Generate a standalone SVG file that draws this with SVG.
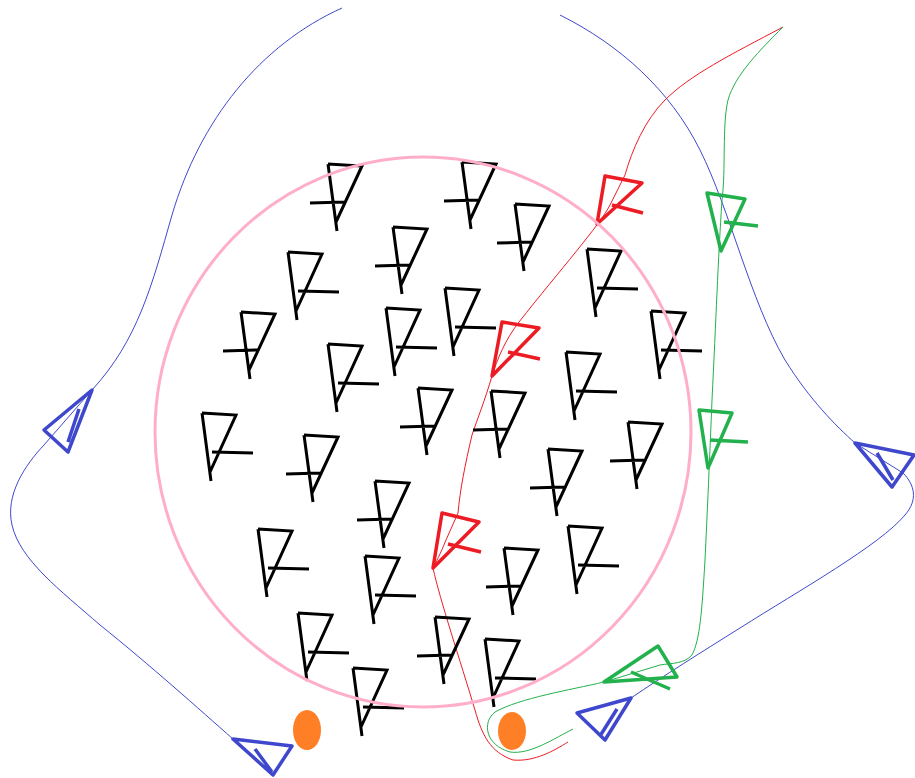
<svg xmlns="http://www.w3.org/2000/svg" xmlns:xlink="http://www.w3.org/1999/xlink" width="915" height="778" viewBox="0 0 915 778">
<defs>
<style>
.bk{fill:none;stroke:#000;stroke-width:3;stroke-linejoin:miter}
.rd{fill:none;stroke:#ed1c24;stroke-width:3.5;stroke-linejoin:round}
.gn{fill:none;stroke:#22b14c;stroke-width:3.5;stroke-linejoin:round}
.bl{fill:none;stroke:#3f48cc;stroke-width:3.5;stroke-linejoin:round}
.lr{fill:none;stroke:#ed1c24;stroke-width:1}
.lg{fill:none;stroke:#22b14c;stroke-width:1}
.lb{fill:none;stroke:#3f48cc;stroke-width:1}
.or{fill:#ff7f27}
</style>
<path id="gL" class="bk" d="M0,0 L34,2 L8,58 M0,0 L9,67 M-18,39 L17,38"/>
<path id="gR" class="bk" d="M0,0 L34,2 L8,59 M0,0 L9,68 M10,39 L51,40"/>
</defs>
<rect width="915" height="778" fill="#fff"/>
<g id="connectors">
<path class="lb" d="M342,8 C 260,45 200,120 172,215 C 152,285 138,340 92,390 L 44,445 C 25,465 5,495 12,525 C 20,560 60,590 100,625 C 150,665 200,710 233,739"/>
<path class="lb" d="M560,15 C 620,45 670,90 700,150 C 730,210 750,300 785,360 C 810,400 835,425 855,443 L 903,473 C 915,485 918,500 905,515 C 880,545 800,590 740,628 C 700,653 665,675 631,698"/>
<path class="lr" d="M783,27 C 730,55 690,75 665,100 C 645,120 632,150 625,175 L 610,205 C 600,225 560,270 519,322 C 505,340 497,360 492,376 C 485,400 477,420 472,435 C 465,465 460,490 458,513 L 446,540 C 440,555 436,562 433,568 C 440,600 460,660 475,710 C 482,735 490,752 513,760 C 535,762 555,750 568,742"/>
<path class="lg" d="M783,27 C 760,50 735,75 728,100 C 722,125 726,170 722,200 C 718,260 716,320 712,400 C 710,450 707,520 705,560 C 702,610 700,640 692,655 C 684,664 672,663 660,665 L 604,682 C 570,690 520,698 495,712 C 482,722 485,745 510,752 C 530,755 555,738 573,729"/>
</g>
<g id="agents">
<g id="a1"><use xlink:href="#gL" x="328" y="164"/></g>
<g id="a2"><use xlink:href="#gL" x="393" y="227"/></g>
<g id="a3"><use xlink:href="#gL" x="241" y="312"/></g>
<g id="a4"><use xlink:href="#gL" x="418" y="388"/></g>
<g id="a5"><use xlink:href="#gL" x="462" y="162"/></g>
<g id="a6"><use xlink:href="#gL" x="515" y="204"/></g>
<g id="a7"><use xlink:href="#gL" x="491" y="391"/></g>
<g id="a8"><use xlink:href="#gL" x="628" y="422"/></g>
<g id="a9"><use xlink:href="#gL" x="304" y="435"/></g>
<g id="a10"><use xlink:href="#gL" x="375" y="481"/></g>
<g id="a11"><use xlink:href="#gL" x="435" y="617"/></g>
<g id="a12"><use xlink:href="#gL" x="548" y="449"/></g>
<g id="a13"><use xlink:href="#gL" x="504" y="548"/></g>
<g id="a14"><use xlink:href="#gR" x="288" y="252"/></g>
<g id="a15"><use xlink:href="#gR" x="386" y="308"/></g>
<g id="a16"><use xlink:href="#gR" x="328" y="344"/></g>
<g id="a17"><use xlink:href="#gR" x="202" y="413"/></g>
<g id="a18"><use xlink:href="#gR" x="445" y="288"/></g>
<g id="a19"><use xlink:href="#gR" x="587" y="249"/></g>
<g id="a20"><use xlink:href="#gR" x="651" y="311"/></g>
<g id="a21"><use xlink:href="#gR" x="566" y="352"/></g>
<g id="a22"><use xlink:href="#gR" x="258" y="529"/></g>
<g id="a23"><use xlink:href="#gR" x="365" y="556"/></g>
<g id="a24"><use xlink:href="#gR" x="298" y="613"/></g>
<g id="a25"><use xlink:href="#gR" x="353" y="668"/></g>
<g id="a26"><use xlink:href="#gR" x="568" y="526"/></g>
<g id="a27"><use xlink:href="#gR" x="485" y="639"/></g>
</g>
<g id="red-agents">
<g id="r1"><path class="rd" d="M605,176 L642,183 L597,224 Z M612,205 L643,213"/></g>
<g id="r2"><path class="rd" d="M502,322 L539,328 L492,376 Z M508,352 L540,359"/></g>
<g id="r3"><path class="rd" d="M442,513 L479,522 L433,568 Z M448,544 L481,552"/></g>
</g>
<g id="green-agents">
<g id="g1"><path class="gn" d="M707,193 L745,199 L721,251 Z M724,222 L758,226"/></g>
<g id="g2"><path class="gn" d="M699,410 L732,413 L708,468 Z M710,440 L748,442"/></g>
<g id="g3"><path class="gn" d="M604,682 L658,646 L677,677 Z M631,672 L670,689"/></g>
</g>
<g id="blue-agents">
<g id="b1"><path class="bl" d="M44,430 L92,390 L68,452 Z M79,409 L68,442"/></g>
<g id="b2"><path class="bl" d="M233,739 L292,746 L273,775 Z M255,749 L272,772"/></g>
<g id="b3"><path class="bl" d="M855,443 L914,455 L892,487 Z M877,453 L893,480"/></g>
<g id="b4"><path class="bl" d="M577,713 L631,698 L605,740 Z M617,709 L600,736"/></g>
</g>
<g id="region"><ellipse cx="423" cy="432" rx="268" ry="275" fill="none" stroke="#ffaec9" stroke-width="3"/></g>
<g id="food">
<ellipse id="food1" class="or" cx="307" cy="730" rx="14" ry="20"/>
<ellipse id="food2" class="or" cx="512" cy="731" rx="14" ry="19"/>
</g>
</svg>
